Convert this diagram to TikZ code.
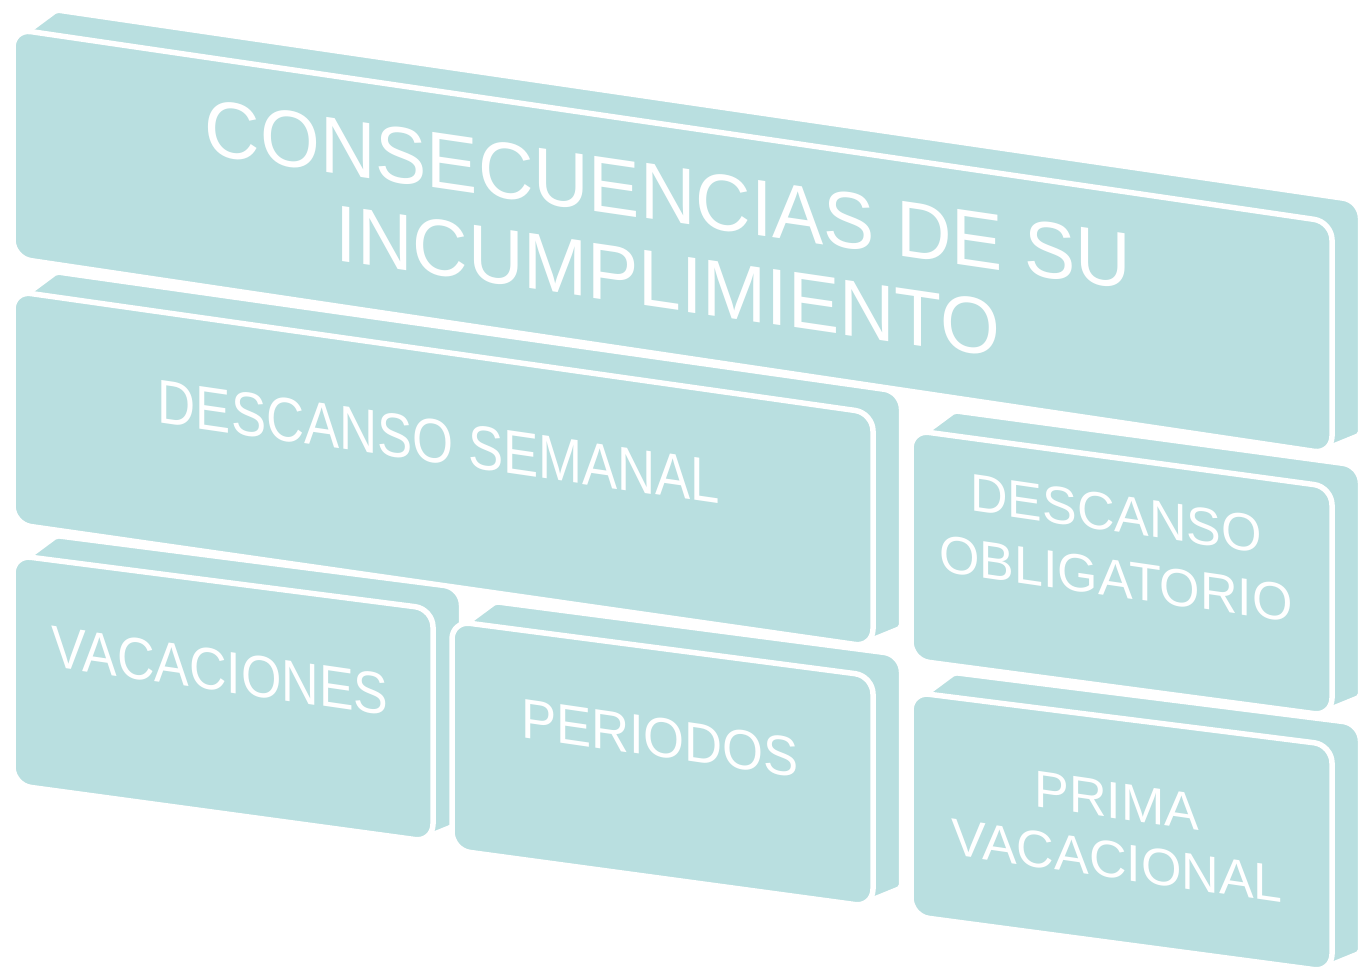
\documentclass[tikz,border=0pt]{standalone}
\usepackage{fontspec}
\setmainfont{Liberation Sans}
\usetikzlibrary{calc}
\definecolor{tealface}{RGB}{185,223,224}
\tikzset{
  extr/.style={fill=tealface, draw=white, line width=2.5pt, line join=round},
  front/.style={fill=tealface, draw=white, line width=5.5pt, rounded corners=18pt, line join=round},
  lbl/.style={text=white, align=center, inner sep=0pt, transform shape},
}
\newcommand\drawcube[5]{%
  \coordinate (#1tl) at (#2);
  \coordinate (#1tr) at (#3);
  \coordinate (#1br) at (#4);
  \coordinate (#1bl) at (#5);
  \coordinate (#1a) at ($(#1tl)!17pt!(#1tr)$);
  \coordinate (#1b) at ($(#1br)!9pt!(#1tr)$);
  \coordinate (#1in) at ($(#1tr)+(-30,30)$);
  \filldraw[extr] (#1a) [rounded corners=2pt] -- ($(#1a)+(27,-20)$) [rounded corners=16pt] -- ($(#1tr)+(27,-20)$) [rounded corners=2pt] -- ($(#1br)+(27,-20)$) -- (#1b) [sharp corners] -- (#1in) -- cycle;
  \filldraw[front] (#1tl) -- (#1tr) -- (#1br) -- (#1bl) -- cycle;
}
\begin{document}
\begin{tikzpicture}[x=1pt,y=-1pt]
\useasboundingbox (0,0) rectangle (1358,975);
\fill[white] (0,0) rectangle (1358,975);
% blocks
\drawcube{c1}{13,29}{1332,222}{1332,454}{13,258}
\drawcube{c2}{13,291}{873,413}{873,647}{13,524}
\drawcube{c5}{911,430}{1332,487}{1332,716}{911,660}
\drawcube{c6}{911,692}{1332,745}{1332,972}{911,916}
\drawcube{c3}{13,555}{433,609}{433,842}{13,785}
\drawcube{c4}{452,621}{873,676}{873,907}{452,850}
% labels
\begin{scope}[shift={(668,238)}, yslant=-0.146, xscale=0.96]
  \node[lbl, font=\fontsize{80}{87}\selectfont] (t1) at (0,0) {CONSECUENCIAS DE SU\\INCUMPLIMIENTO};
\end{scope}
\begin{scope}[shift={(439,442)}, yslant=-0.145, xscale=0.85]
  \node[lbl, font=\fontsize{62}{70}\selectfont] (t2) at (0,0) {DESCANSO SEMANAL};
\end{scope}
\begin{scope}[shift={(220,671)}, yslant=-0.145, xscale=0.88]
  \node[lbl, font=\fontsize{59}{66}\selectfont] (t3) at (0,0) {VACACIONES};
\end{scope}
\begin{scope}[shift={(660,738)}, yslant=-0.145, xscale=0.94]
  \node[lbl, font=\fontsize{56}{63}\selectfont] (t4) at (0,0) {PERIODOS};
\end{scope}
\begin{scope}[shift={(1116,546)}, yslant=-0.145, xscale=0.98]
  \node[lbl, font=\fontsize{53}{65}\selectfont] (t5) at (0,0) {DESCANSO\\OBLIGATORIO};
\end{scope}
\begin{scope}[shift={(1117,831)}, yslant=-0.145, xscale=1.0]
  \node[lbl, font=\fontsize{52}{60}\selectfont] (t6) at (0,0) {PRIMA\\VACACIONAL};
\end{scope}
\end{tikzpicture}
\end{document}
